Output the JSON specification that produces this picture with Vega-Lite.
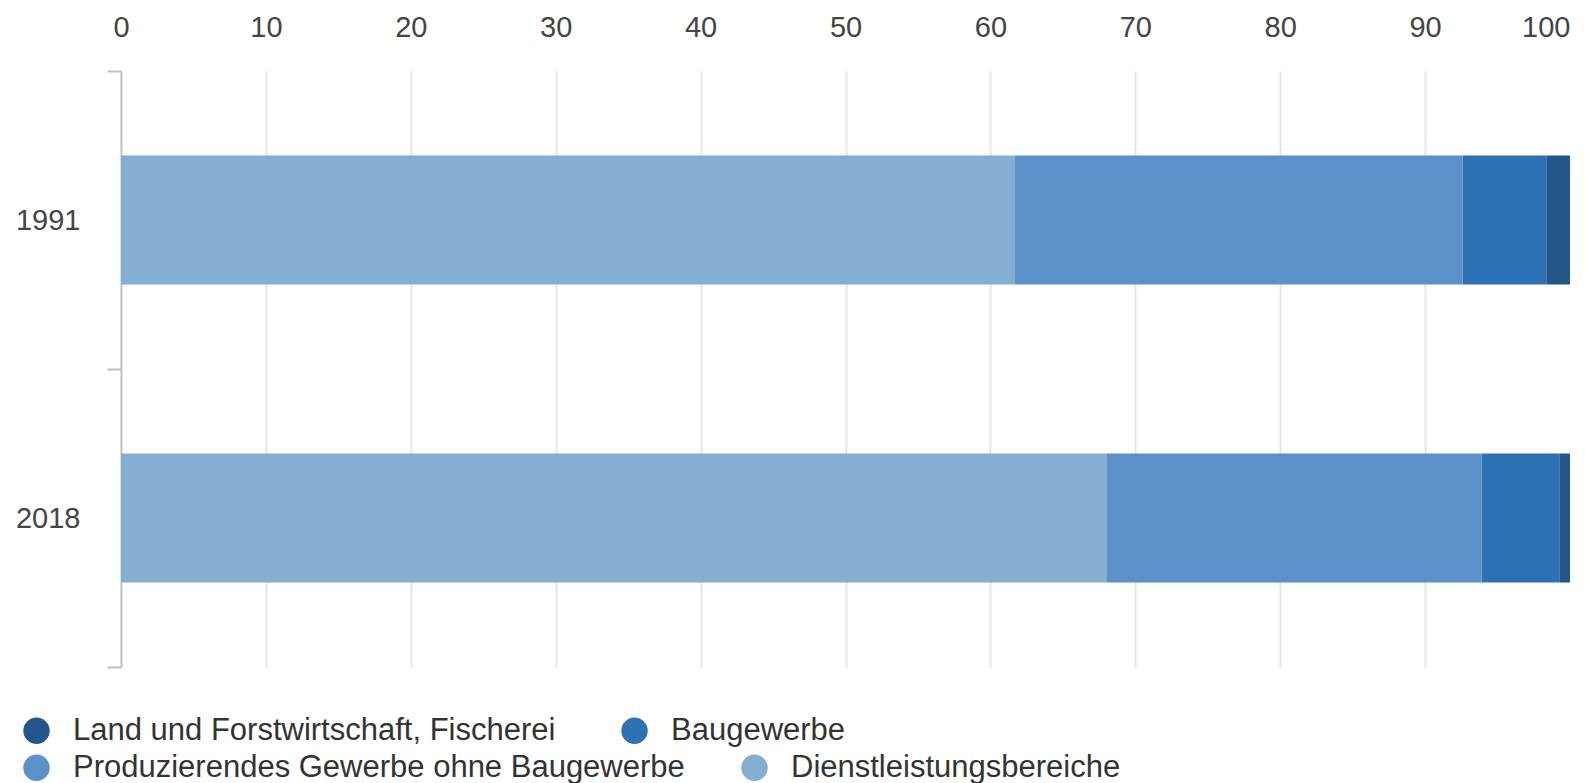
{
  "$schema": "https://vega.github.io/schema/vega-lite/v6.json",
  "width": 1449,
  "height": 596,
  "autosize": {"type": "none"},
  "padding": {"left": 121, "top": 71, "right": 16, "bottom": 116},
  "background": "white",
  "config": {"view": {"stroke": null}, "font": "Liberation Sans"},
  "data": {
    "values": [
      {"year": "1991", "sector": "Dienstleistungsbereiche", "value": 61.7, "ord": 1},
      {"year": "1991", "sector": "Produzierendes Gewerbe ohne Baugewerbe", "value": 30.9, "ord": 2},
      {"year": "1991", "sector": "Baugewerbe", "value": 5.8, "ord": 3},
      {"year": "1991", "sector": "Land und Forstwirtschaft, Fischerei", "value": 1.6, "ord": 4},
      {"year": "2018", "sector": "Dienstleistungsbereiche", "value": 68.0, "ord": 1},
      {"year": "2018", "sector": "Produzierendes Gewerbe ohne Baugewerbe", "value": 25.9, "ord": 2},
      {"year": "2018", "sector": "Baugewerbe", "value": 5.4, "ord": 3},
      {"year": "2018", "sector": "Land und Forstwirtschaft, Fischerei", "value": 0.7, "ord": 4}
    ]
  },
  "transform": [
    {"stack": "value", "groupby": ["year"], "sort": [{"field": "ord", "order": "ascending"}], "as": ["x0", "x1"]}
  ],
  "encoding": {
    "y": {
      "field": "year",
      "type": "nominal",
      "sort": ["1991", "2018"],
      "scale": {"paddingInner": 0, "paddingOuter": 0},
      "axis": {
        "title": null,
        "tickBand": "extent",
        "ticks": true,
        "tickSize": 14,
        "tickWidth": 2,
        "tickColor": "#c0c0c0",
        "domain": true,
        "domainColor": "#c0c0c0",
        "domainWidth": 2,
        "grid": false,
        "labelPadding": 27,
        "labelFontSize": 29,
        "labelColor": "#444444",
        "labelFont": "Liberation Sans"
      }
    },
    "x": {
      "field": "x0",
      "type": "quantitative",
      "scale": {"domain": [0, 100], "nice": false},
      "axis": {
        "orient": "top",
        "title": null,
        "values": [0, 10, 20, 30, 40, 50, 60, 70, 80, 90, 100],
        "domain": false,
        "ticks": false,
        "grid": true,
        "gridColor": {"condition": {"test": "datum.value == 100 || datum.value == 0", "value": "transparent"}, "value": "#e6e6e6"},
        "gridWidth": 2,
        "labelPadding": 29,
        "labelFontSize": 29,
        "labelColor": "#444444",
        "labelFont": "Liberation Sans",
        "labelAlign": {"condition": {"test": "datum.value == 100", "value": "right"}, "value": "center"}
      }
    },
    "x2": {"field": "x1"}
  },
  "layer": [
    {
      "transform": [
        {"filter": {"field": "sector", "oneOf": ["Land und Forstwirtschaft, Fischerei", "Baugewerbe"]}}
      ],
      "mark": {"type": "bar", "height": {"band": 0.433}},
      "encoding": {
        "color": {
          "field": "sector",
          "type": "nominal",
          "scale": {
            "domain": ["Land und Forstwirtschaft, Fischerei", "Baugewerbe"],
            "range": ["#245689", "#2D72B4"]
          },
          "legend": {
            "title": null,
            "orient": "none",
            "legendX": -100,
            "legendY": 644,
            "direction": "horizontal",
            "columnPadding": 63,
            "symbolType": "circle",
            "symbolSize": 700,
            "symbolStrokeWidth": 0,
            "symbolOpacity": 1,
            "labelFontSize": 31,
            "labelFont": "Liberation Sans",
            "labelColor": "#333333",
            "labelOffset": 21,
            "labelLimit": 800
          }
        }
      }
    },
    {
      "transform": [
        {"filter": {"field": "sector", "oneOf": ["Produzierendes Gewerbe ohne Baugewerbe", "Dienstleistungsbereiche"]}}
      ],
      "mark": {"type": "bar", "height": {"band": 0.433}},
      "encoding": {
        "color": {
          "field": "sector",
          "type": "nominal",
          "scale": {
            "domain": ["Produzierendes Gewerbe ohne Baugewerbe", "Dienstleistungsbereiche"],
            "range": ["#5B90C8", "#84AFD3"]
          },
          "legend": {
            "title": null,
            "orient": "none",
            "legendX": -100,
            "legendY": 681,
            "direction": "horizontal",
            "columnPadding": 54,
            "symbolType": "circle",
            "symbolSize": 700,
            "symbolStrokeWidth": 0,
            "symbolOpacity": 1,
            "labelFontSize": 31,
            "labelFont": "Liberation Sans",
            "labelColor": "#333333",
            "labelOffset": 21,
            "labelLimit": 800
          }
        }
      }
    }
  ],
  "resolve": {"scale": {"color": "independent"}, "legend": {"color": "independent"}}
}
